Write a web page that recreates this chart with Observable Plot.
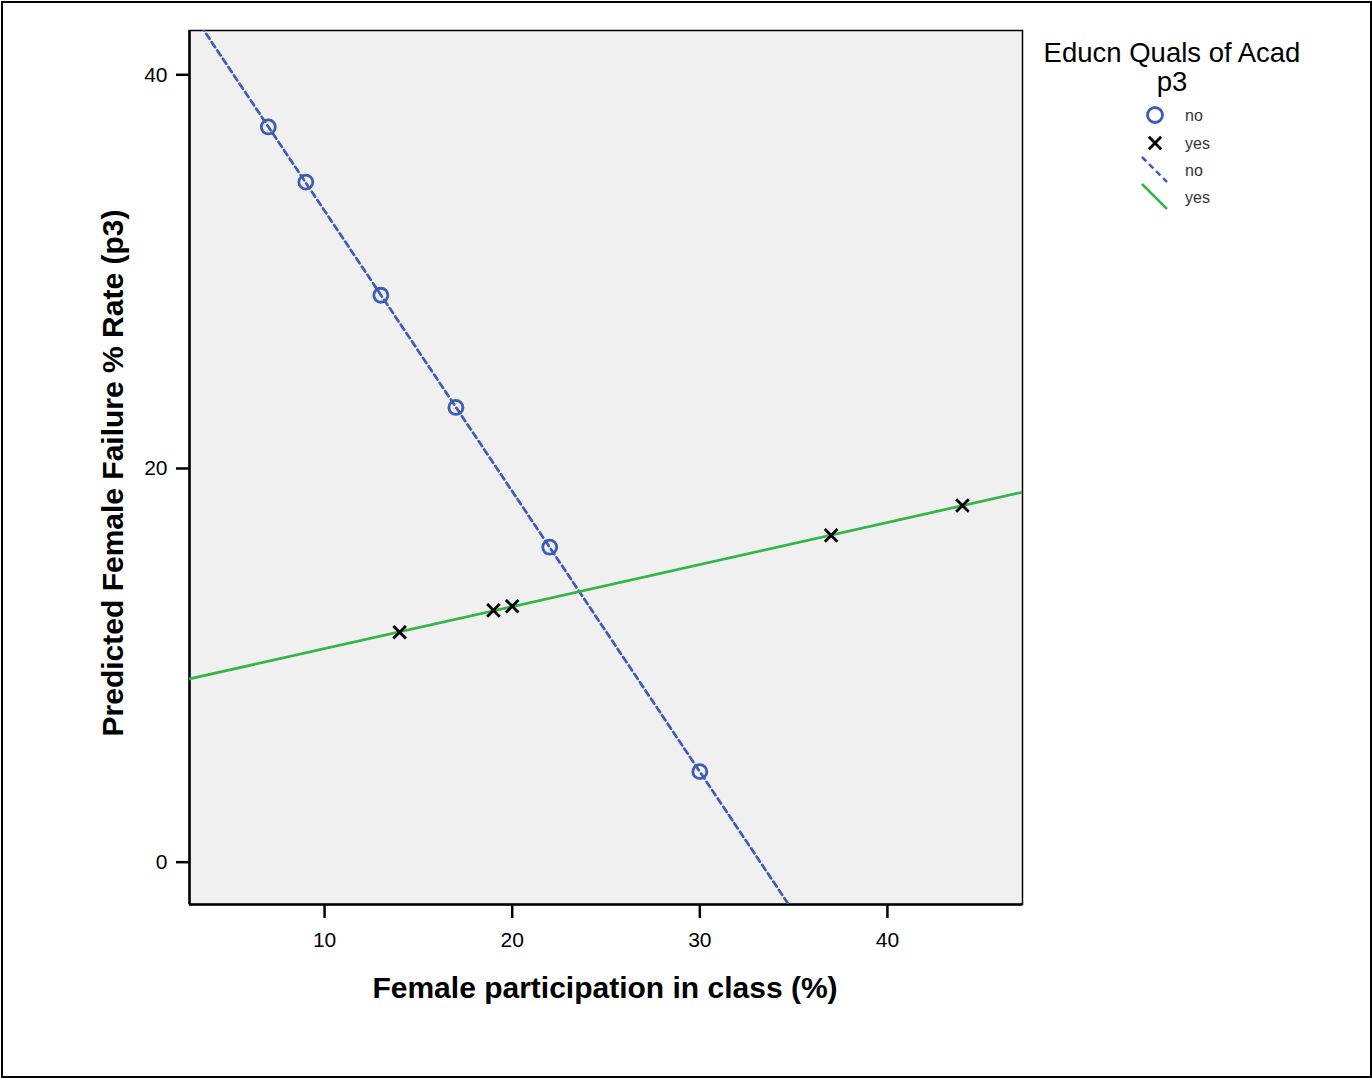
<!DOCTYPE html>
<html>
<head>
<meta charset="utf-8">
<script src="https://cdn.jsdelivr.net/npm/d3@7"></script>
<script src="https://cdn.jsdelivr.net/npm/@observablehq/plot@0.6"></script>
<style>
  html, body { margin: 0; padding: 0; background: #fff; overflow: hidden; }
  #wrap { position: relative; width: 1372px; height: 1078px; font-family: "Liberation Sans", Arial, sans-serif; }
  #border { position: absolute; left: 1px; top: 1px; width: 1367px; height: 1073px; border: 2px solid #000; pointer-events: none; }
  .axlabel { position: absolute; font-weight: bold; font-size: 30px; color: #000; white-space: nowrap; }
  #legend { position: absolute; left: 0; top: 0; }
</style>
</head>
<body>
<div id="wrap">
  <div id="chart"></div>
  <div id="xlabel" class="axlabel"></div>
  <div id="ylabel" class="axlabel"></div>
  <div id="border"></div>
</div>
<script>
// ---- data ----
const noX = [7, 9, 13, 17, 22, 30];
const noY = [37.35, 34.55, 28.8, 23.1, 16.0, 4.6];
const yesX = [14, 19, 20, 37, 44];
const yesY = [11.68, 12.79, 13.0, 16.6, 18.12];
const groups = ["no", "yes"];
const xTicks = [10, 20, 30, 40];
const yTicks = [0, 20, 40];
const xDomain = [2.8, 47.2];
const yDomain = [-2.15, 42.25];
const xTitle = "Female participation in class (%)";
const yTitle = "Predicted Female Failure % Rate (p3)";
const legendTitle = ["Educn Quals of Acad", "p3"];

const blue = "#3e5cb4";
const green = "#34b548";

const noPts = noX.map((x, i) => ({x, y: noY[i]}));
const yesPts = yesX.map((x, i) => ({x, y: yesY[i]}));

function fit(pts) {
  const mx = d3.mean(pts, d => d.x), my = d3.mean(pts, d => d.y);
  const b = d3.sum(pts, d => (d.x - mx) * (d.y - my)) / d3.sum(pts, d => (d.x - mx) ** 2);
  const a = my - b * mx;
  // fitted line across the whole x scale domain
  return xDomain.map(x => ({x, y: a + b * x}));
}
const noFit = fit(noPts);
const yesFit = fit(yesPts);

const W = 1372, H = 1078;
const mL = 189, mR = W - 1022, mT = 30, mB = H - 904;

const plot = Plot.plot({
  width: W, height: H,
  marginLeft: mL, marginRight: mR, marginTop: mT, marginBottom: mB,
  style: {background: "transparent", fontFamily: "'Liberation Sans', Arial, sans-serif", color: "#000"},
  x: {domain: xDomain},
  y: {domain: yDomain},
  marks: [
    Plot.frame({fill: "#f0f0f0", stroke: "#000", strokeWidth: 1.5}),
    Plot.ruleX([xDomain[0]], {stroke: "#000", strokeWidth: 2.5}),
    Plot.ruleY([yDomain[0]], {stroke: "#000", strokeWidth: 2.5}),
    Plot.axisX({ticks: xTicks, tickSize: 14, tickPadding: 14, fontSize: 21, strokeWidth: 2.5, label: null, tickFormat: d => String(d)}),
    Plot.axisY({ticks: yTicks, tickSize: 13, tickPadding: 9, fontSize: 21, strokeWidth: 2.5, label: null, tickFormat: d => String(d)}),
    Plot.line(noFit, {x: "x", y: "y", stroke: blue, strokeWidth: 2.7, strokeDasharray: "6,4", clip: true}),
    Plot.line(yesFit, {x: "x", y: "y", stroke: green, strokeWidth: 2.7, clip: true}),
    Plot.dot(noPts, {x: "x", y: "y", r: 7, stroke: blue, strokeWidth: 2.8, fill: "none"}),
    Plot.dot(yesPts, {x: "x", y: "y", r: 5.8, symbol: "times", stroke: "#000", strokeWidth: 2.8})
  ]
});
document.getElementById("chart").appendChild(plot);

// axis titles
const xl = document.getElementById("xlabel");
xl.textContent = xTitle;
xl.style.left = "605px"; xl.style.top = "988px";
xl.style.transform = "translate(-50%, -50%)";
const yl = document.getElementById("ylabel");
yl.textContent = yTitle;
yl.style.left = "113px"; yl.style.top = "473px";
yl.style.transform = "translate(-50%, -50%) rotate(-90deg)";

// legend
const svg = d3.select("#wrap").append("svg")
  .attr("id", "legend").attr("width", W).attr("height", 260)
  .style("font-family", "'Liberation Sans', Arial, sans-serif");
svg.append("text").attr("x", 1172).attr("y", 62).attr("text-anchor", "middle")
  .attr("font-size", 27.5).text(legendTitle[0]);
svg.append("text").attr("x", 1172).attr("y", 91).attr("text-anchor", "middle")
  .attr("font-size", 27.5).text(legendTitle[1]);
const items = [
  {label: groups[0], kind: "circle", y: 115},
  {label: groups[1], kind: "times", y: 143},
  {label: groups[0], kind: "dash", y: 170},
  {label: groups[1], kind: "solid", y: 197}
];
items.forEach(it => {
  const cx = 1155;
  if (it.kind === "circle") {
    svg.append("circle").attr("cx", cx).attr("cy", it.y).attr("r", 7.5)
      .attr("fill", "none").attr("stroke", blue).attr("stroke-width", 2.8);
  } else if (it.kind === "times") {
    svg.append("path").attr("d", d3.symbol(d3.symbolTimes, 100)())
      .attr("transform", `translate(${cx},${it.y})`)
      .attr("fill", "none").attr("stroke", "#000").attr("stroke-width", 2.8);
  } else {
    svg.append("line").attr("x1", cx - 13).attr("y1", it.y - 13).attr("x2", cx + 12).attr("y2", it.y + 12)
      .attr("stroke", it.kind === "dash" ? blue : green).attr("stroke-width", 2.5)
      .attr("stroke-dasharray", it.kind === "dash" ? "6,4" : null);
  }
  svg.append("text").attr("x", 1185).attr("y", it.y).attr("dy", "0.35em")
    .attr("font-size", 16).attr("fill", "#333").text(it.label);
});
</script>
</body>
</html>
